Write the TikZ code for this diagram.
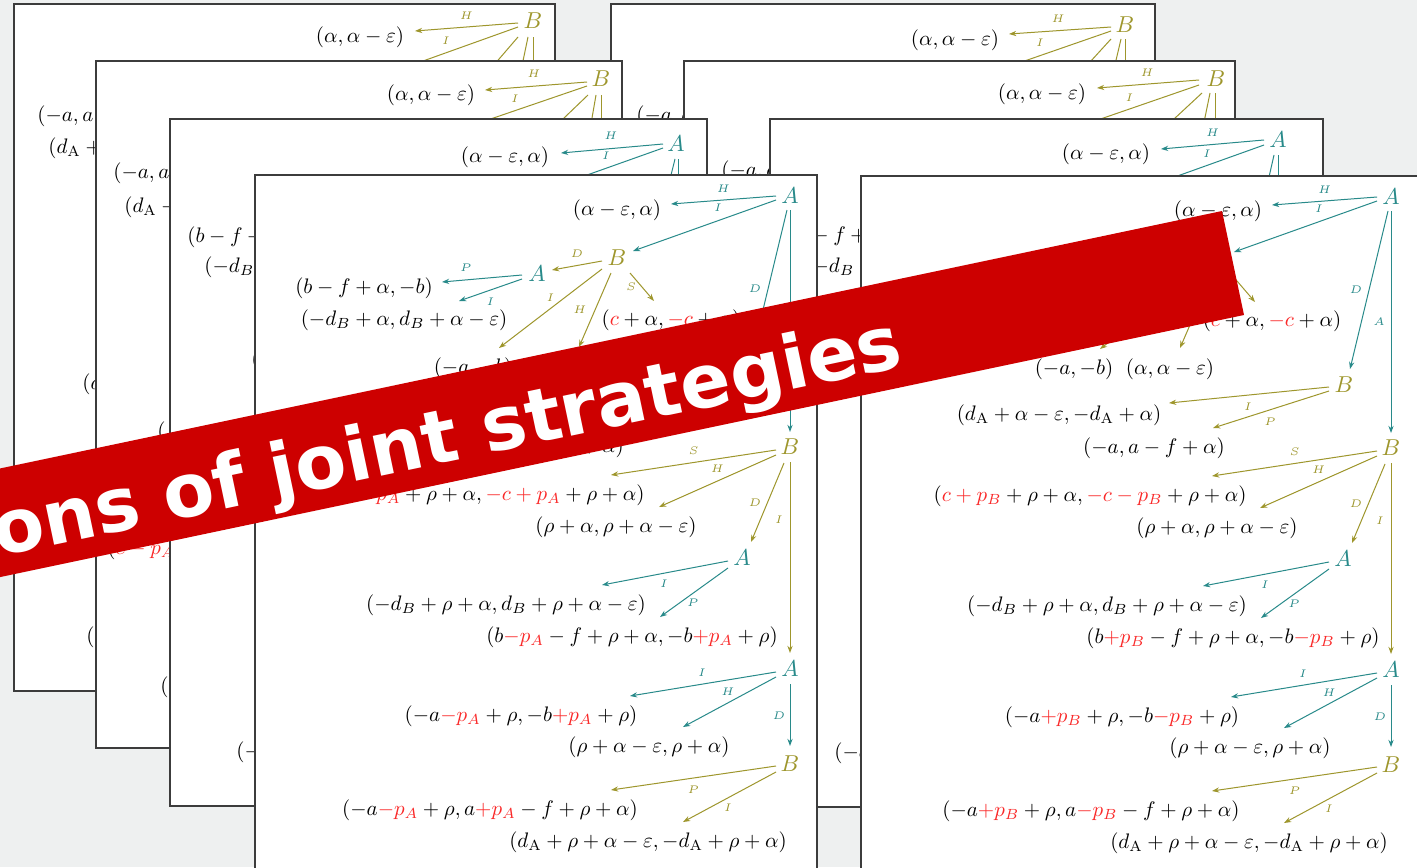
\RequirePackage{fix-cm}
\documentclass[tikz,border=0pt]{standalone}
\usepackage{fontspec}
\usetikzlibrary{calc,arrows.meta}
\newfontfamily\bannerfont{DejaVu Sans}
\definecolor{colA}{RGB}{40,138,138}
\definecolor{colB}{RGB}{158,150,44}
\definecolor{pred}{RGB}{250,40,40}
\definecolor{bannerc}{RGB}{205,0,0}
\definecolor{bgc}{RGB}{238,240,240}
\definecolor{pageline}{RGB}{60,60,60}
\newcommand\rd[1]{{\color{pred}#1}}
\newcommand\dA{d_{\mathrm{A}}}
\tikzset{
  pg/.style={fill=white, draw=pageline, line width=0.6pt},
  pay/.style={font=\fontsize{10.5}{12}\selectfont, inner sep=0pt, text height=7.9pt, text depth=2.6pt},
  plA/.style={text=colA, font=\fontsize{11.5}{13}\selectfont, inner sep=0pt},
  plB/.style={text=colB, font=\fontsize{11.5}{13}\selectfont, inner sep=0pt},
  eA/.style={draw=colA, line width=0.5pt, -{Stealth[length=3.6pt,width=2.6pt]}},
  eB/.style={draw=colB, line width=0.5pt, -{Stealth[length=3.6pt,width=2.6pt]}},
  lA/.style={text=colA, font=\fontsize{5.5}{6}\selectfont, inner sep=0pt},
  lB/.style={text=colB, font=\fontsize{5.5}{6}\selectfont, inner sep=0pt},
  bannertext/.style={text=white, inner sep=0pt, font=\bannerfont\bfseries\fontsize{37.2}{40}\selectfont}
}
% #1 prefix, #2 t9, #3 t12, #4 t13, #5 t15, #6 label of the long A edge
\newcommand\gtree[6]{%
  \node[plA] (#1A1) at (790,196) {$A$};
  \node[pay] (#1t1) at (617,210) {$(\alpha-\varepsilon,\alpha)$};
  \node[plB] (#1B1) at (617,258) {$B$};
  \node[plA] (#1A2) at (537,274) {$A$};
  \node[pay] (#1t2) at (364,288) {$(b-f+\alpha,-b)$};
  \node[pay] (#1t3) at (404,320) {$(-d_B+\alpha,d_B+\alpha-\varepsilon)$};
  \node[pay] (#1t4) at (671,320) {$(\rd{c}+\alpha,\rd{-c}+\alpha)$};
  \node[pay] (#1t5) at (473,368) {$(-a,-b)$};
  \node[pay] (#1t6) at (569,368) {$(\alpha,\alpha-\varepsilon)$};
  \node[plB] (#1B2) at (743,384) {$B$};
  \node[pay] (#1t7) at (458,414) {$(\dA+\alpha-\varepsilon,-\dA+\alpha)$};
  \node[pay] (#1t8) at (553,447) {$(-a,a-f+\alpha)$};
  \node[plB] (#1B3) at (790,447) {$B$};
  \node[pay] (#1t9) at (489,495) {$#2$};
  \node[pay] (#1t10) at (616,527) {$(\rho+\alpha,\rho+\alpha-\varepsilon)$};
  \node[plA] (#1A4) at (742,558) {$A$};
  \node[pay] (#1t11) at (506,605) {$(-d_B+\rho+\alpha,d_B+\rho+\alpha-\varepsilon)$};
  \node[pay] (#1t12) at (632,637) {$#3$};
  \node[plA] (#1A5) at (790,669) {$A$};
  \node[pay] (#1t13) at (521,716) {$#4$};
  \node[pay] (#1t14) at (649,747) {$(\rho+\alpha-\varepsilon,\rho+\alpha)$};
  \node[plB] (#1B6) at (790,764) {$B$};
  \node[pay] (#1t15) at (490,810) {$#5$};
  \node[pay] (#1t16) at (648,842) {$(\dA+\rho+\alpha-\varepsilon,-\dA+\rho+\alpha)$};
  \draw[eA] ($(#1A1)+(-14,0)$) -- ($(#1t1)+(54,-6)$) node[lA,midway,shift={(0,-11)}]{$H$};
  \draw[eA] ($(#1A1)+(-14,4)$) -- ($(#1B1)+(16,-7)$) node[lA,midway,shift={(13.5,-17.5)}]{$I$};
  \draw[eA] ($(#1A1)+(-3,14)$) -- ($(#1B2)+(6,-16)$) node[lA,midway,shift={(-13,0)}]{$D$};
  \draw[eA] ($(#1A1)+(0,14)$) -- ($(#1B3)+(0,-15)$) node[lA,midway,shift={(-12,0)}]{$#6$};
  \draw[eB] ($(#1B1)+(-15,3)$) -- ($(#1A2)+(15,-4)$) node[lB,midway,shift={(0,-11.5)}]{$D$};
  \draw[eA] ($(#1A2)+(-15,1)$) -- ($(#1t2)+(78,-6)$) node[lA,midway,shift={(-16,-10.5)}]{$P$};
  \draw[eA] ($(#1A2)+(-15,5)$) -- ($(#1t3)+(55,-19)$) node[lA,midway,shift={(0,12)}]{$I$};
  \draw[eB] ($(#1B1)+(-15,11)$) -- ($(#1t5)+(26,-20)$) node[lB,midway,shift={(0,-10.5)}]{$I$};
  \draw[eB] ($(#1B1)+(-6,15)$) -- ($(#1t6)+(10,-21)$) node[lB,midway,shift={(-15,0)}]{$H$};
  \draw[eB] ($(#1B1)+(13,15)$) -- ($(#1t4)+(-17,-19)$) node[lB,midway,shift={(-11,0)}]{$S$};
  \draw[eB] ($(#1B2)+(-15,2)$) -- ($(#1t7)+(110,-12)$) node[lB,midway,shift={(-1,12)}]{$I$};
  \draw[eB] ($(#1B2)+(-15,6)$) -- ($(#1t8)+(59,-20)$) node[lB,midway,shift={(-1,12.5)}]{$P$};
  \draw[eB] ($(#1B3)+(-14,3)$) -- ($(#1t9)+(122,-20)$) node[lB,midway,shift={(0,-11.5)}]{$S$};
  \draw[eB] ($(#1B3)+(-14,8)$) -- ($(#1t10)+(43,-20)$) node[lB,midway,shift={(0,-12)}]{$H$};
  \draw[eB] ($(#1B3)+(-6,16)$) -- ($(#1A4)+(9,-16)$) node[lB,midway,shift={(-12.5,0)}]{$D$};
  \draw[eB] ($(#1B3)+(0,15)$) -- ($(#1A5)+(0,-16)$) node[lB,pos=.3,shift={(-11,0)}]{$I$};
  \draw[eA] ($(#1A4)+(-14,3)$) -- ($(#1t11)+(96,-20)$) node[lA,midway,shift={(-1,11)}]{$I$};
  \draw[eA] ($(#1A4)+(-14,10)$) -- ($(#1t12)+(28,-20)$) node[lA,midway,shift={(-1,10.5)}]{$P$};
  \draw[eA] ($(#1A5)+(-14,3)$) -- ($(#1t13)+(109,-20)$) node[lA,midway,shift={(-1,-11)}]{$I$};
  \draw[eA] ($(#1A5)+(-14,8)$) -- ($(#1t14)+(34,-20)$) node[lA,midway,shift={(-1.5,-10)}]{$H$};
  \draw[eA] ($(#1A5)+(0,15)$) -- ($(#1B6)+(0,-18)$) node[lA,midway,shift={(-11,1)}]{$D$};
  \draw[eB] ($(#1B6)+(-14,2)$) -- ($(#1t15)+(121,-20)$) node[lB,midway,shift={(0,12)}]{$P$};
  \draw[eB] ($(#1B6)+(-14,8)$) -- ($(#1t16)+(35,-20)$) node[lB,midway,shift={(-1.5,11)}]{$I$};
}
\begin{document}
\begin{tikzpicture}[x=0.5pt,y=-0.5pt]
\useasboundingbox (0,0) rectangle (1417,867);
\fill[bgc] (0,0) rectangle (1417,867);

% ---------- page L1 ----------
\filldraw[pg] (14,4) rectangle (555,691);
\node[plB] (l1B) at (533,21) {$B$};
\node[pay] (l1t) at (360,37) {$(\alpha,\alpha-\varepsilon)$};
\coordinate (l1i) at (370,80);
\coordinate (l1d1) at (481,80);
\coordinate (l1d2) at (519,80);
\coordinate (l1d3) at (533,80);
\draw[eB] ($(l1B)+(-15,2)$) -- ($(l1t)+(55,-6)$) node[lB,midway,shift={(0,-11)}]{$H$};
\draw[eB] ($(l1B)+(-15,6)$) -- (l1i) node[lB,pos=.486,shift={(0,-12)}]{$I$};
\draw[eB] ($(l1B)+(-15,16)$) -- (l1d1);
\draw[eB] ($(l1B)+(-5,16)$) -- (l1d2);
\draw[eB] ($(l1B)+(0,16)$) -- (l1d3);
\node[pay,anchor=west] (l1f1) at (37,116) {$(-a,a-f+\alpha)$};
\node[pay,anchor=west] (l1f2) at (48,148) {$(\dA+\alpha-\varepsilon,-\dA+\alpha)$};
\node[pay,anchor=west] (l1f3) at (82,384) {$(a$};
\node[pay,anchor=west] (l1f4) at (86,637) {$(b$};

% ---------- page R1 ----------
\filldraw[pg] (611,4) rectangle (1155,691);
\node[plB] (r1B) at (1125,25) {$B$};
\node[pay] (r1t) at (955,40) {$(\alpha,\alpha-\varepsilon)$};
\coordinate (r1i) at (990,73);
\coordinate (r1d1) at (1080,73);
\coordinate (r1d2) at (1113,73);
\coordinate (r1d3) at (1125,73);
\draw[eB] ($(r1B)+(-14,2)$) -- ($(r1t)+(54,-6)$) node[lB,midway,shift={(-2,-11.5)}]{$H$};
\draw[eB] ($(r1B)+(-14,6)$) -- (r1i) node[lB,pos=.587,shift={(0,-12.6)}]{$I$};
\draw[eB] ($(r1B)+(-14,14)$) -- (r1d1);
\draw[eB] ($(r1B)+(-4,14)$) -- (r1d2);
\draw[eB] ($(r1B)+(0,14)$) -- (r1d3);
\node[pay,anchor=west] (r1f1) at (636,116) {$(-a,a-f+\alpha)$};

% ---------- page L2 ----------
\filldraw[pg] (96,61) rectangle (622,748);
\node[plB] (l2B) at (601,79) {$B$};
\node[pay] (l2t) at (431,95) {$(\alpha,\alpha-\varepsilon)$};
\coordinate (l2i) at (400,150);
\coordinate (l2d1) at (540,141);
\coordinate (l2d2) at (588,141);
\coordinate (l2d3) at (601,150);
\draw[eB] ($(l2B)+(-14,3)$) -- ($(l2t)+(54,-5)$) node[lB,midway,shift={(-2,-12)}]{$H$};
\draw[eB] ($(l2B)+(-14,7)$) -- (l2i) node[lB,pos=.385,shift={(0,-11.6)}]{$I$};
\draw[eB] ($(l2B)+(-13,16)$) -- (l2d1);
\draw[eB] ($(l2B)+(-5,16)$) -- (l2d2);
\draw[eB] ($(l2B)+(0,16)$) -- (l2d3);
\node[pay,anchor=west] (l2f1) at (113,173) {$(-a,a-f+\alpha)$};
\node[pay,anchor=west] (l2f2) at (124,207) {$(\dA+\alpha-\varepsilon,-\dA+\alpha)$};
\node[pay,anchor=west] (l2f3) at (157,432) {$($};
\node[pay,anchor=west] (l2f4) at (107,549) {$(\rd{c-p_A}+\rho+\alpha,\rd{-c+p_A}+\rho+\alpha)$};
\node[pay,anchor=west] (l2f5) at (160,687) {$(\dA+\rho+\alpha-\varepsilon,-\dA+\rho+\alpha)$};

% ---------- page R2 ----------
\filldraw[pg] (684,61) rectangle (1235,748);
\node[plB] (r2B) at (1216,79) {$B$};
\node[pay] (r2t) at (1042,94) {$(\alpha,\alpha-\varepsilon)$};
\coordinate (r2i) at (1060,133);
\coordinate (r2d1) at (1160,132);
\coordinate (r2d2) at (1202,132);
\coordinate (r2d3) at (1215,132);
\draw[eB] ($(r2B)+(-17,1)$) -- ($(r2t)+(55,-6)$) node[lB,midway,shift={(-1,-11)}]{$H$};
\draw[eB] ($(r2B)+(-17,6)$) -- (r2i) node[lB,pos=.5,shift={(0,-11)}]{$I$};
\draw[eB] ($(r2B)+(-14,14)$) -- (r2d1);
\draw[eB] ($(r2B)+(-6,14)$) -- (r2d2);
\draw[eB] ($(r2B)+(-1,14)$) -- (r2d3);
\node[pay,anchor=west] (r2f1) at (721,171) {$(-a,a-f+\alpha)$};

% ---------- page L3 ----------
\filldraw[pg] (170,119) rectangle (707,806);
\node[plA] (l3A) at (676,144) {$A$};
\node[pay] (l3t) at (505,157) {$(\alpha-\varepsilon,\alpha)$};
\coordinate (l3i) at (500,206);
\coordinate (l3d) at (640,300);
\coordinate (l3v) at (678,400);
\draw[eA] ($(l3A)+(-13,0)$) -- ($(l3t)+(56,-4)$) node[lA,midway,shift={(-1,-12.5)}]{$H$};
\draw[eA] ($(l3A)+(-13,4)$) -- (l3i) node[lA,pos=.35,shift={(0,-12.3)}]{$I$};
\draw[eA] ($(l3A)+(-1,15)$) -- (l3d);
\draw[eA] ($(l3A)+(2,15)$) -- (l3v);
\node[pay,anchor=west] (l3f1) at (187,237) {$(b-f+\alpha,-b)$};
\node[pay,anchor=west] (l3f2) at (204,267) {$(-d_B+\alpha,d_B+\alpha-\varepsilon)$};
\node[pay,anchor=west] (l3f3) at (251,360) {$($};
\node[pay,anchor=west] (l3f4) at (236,752) {$(-a\rd{-p_A}+\rho,a\rd{+p_A}-f+\rho+\alpha)$};

% ---------- page R3 ----------
\filldraw[pg] (770,119) rectangle (1323,807);
\node[plA] (r3A) at (1278,140) {$A$};
\node[pay] (r3t) at (1106,154) {$(\alpha-\varepsilon,\alpha)$};
\coordinate (r3i) at (1130,193);
\coordinate (r3d) at (1241,300);
\coordinate (r3v) at (1278,400);
\draw[eA] ($(r3A)+(-14,0)$) -- ($(r3t)+(55,-5)$) node[lA,midway,shift={(0,-11.5)}]{$H$};
\draw[eA] ($(r3A)+(-14,5)$) -- (r3i) node[lA,pos=.425,shift={(0,-11.4)}]{$I$};
\draw[eA] ($(r3A)+(-4,15)$) -- (r3d);
\draw[eA] ($(r3A)+(0,15)$) -- (r3v);
\node[pay,anchor=west] (r3f1) at (790,236) {$(b-f+\alpha,-b)$};
\node[pay,anchor=west] (r3f2) at (804,267) {$(-d_B+\alpha,d_B+\alpha-\varepsilon)$};
\node[pay,anchor=west] (r3f3) at (834,753) {$(-a\rd{+p_B}+\rho,a\rd{-p_B}-f+\rho+\alpha)$};

% ---------- page L4 ----------
\filldraw[pg] (255,175) rectangle (817,900);
\gtree{l4}{(\rd{c-p_A}+\rho+\alpha,\rd{-c+p_A}+\rho+\alpha)}%
  {(b\rd{-p_A}-f+\rho+\alpha,-b\rd{+p_A}+\rho)}%
  {(-a\rd{-p_A}+\rho,-b\rd{+p_A}+\rho)}%
  {(-a\rd{-p_A}+\rho,a\rd{+p_A}-f+\rho+\alpha)}{A}

% ---------- page R4 ----------
\filldraw[pg] (861,176) rectangle (1440,900);
\begin{scope}[shift={(601,1)}]
\gtree{r4}{(\rd{c+p_B}+\rho+\alpha,\rd{-c-p_B}+\rho+\alpha)}%
  {(b\rd{+p_B}-f+\rho+\alpha,-b\rd{-p_B}+\rho)}%
  {(-a\rd{+p_B}+\rho,-b\rd{-p_B}+\rho)}%
  {(-a\rd{+p_B}+\rho,a\rd{-p_B}-f+\rho+\alpha)}{A}
\end{scope}

% ---------- banner ----------
\fill[bannerc] (-50,479) -- (1222,211) -- (1244,315) -- (-28,583) -- cycle;
\node[bannertext, anchor=base west, rotate=11.9] (ttl) at (-2,557) {ons of joint strategies};
\end{tikzpicture}
\end{document}
